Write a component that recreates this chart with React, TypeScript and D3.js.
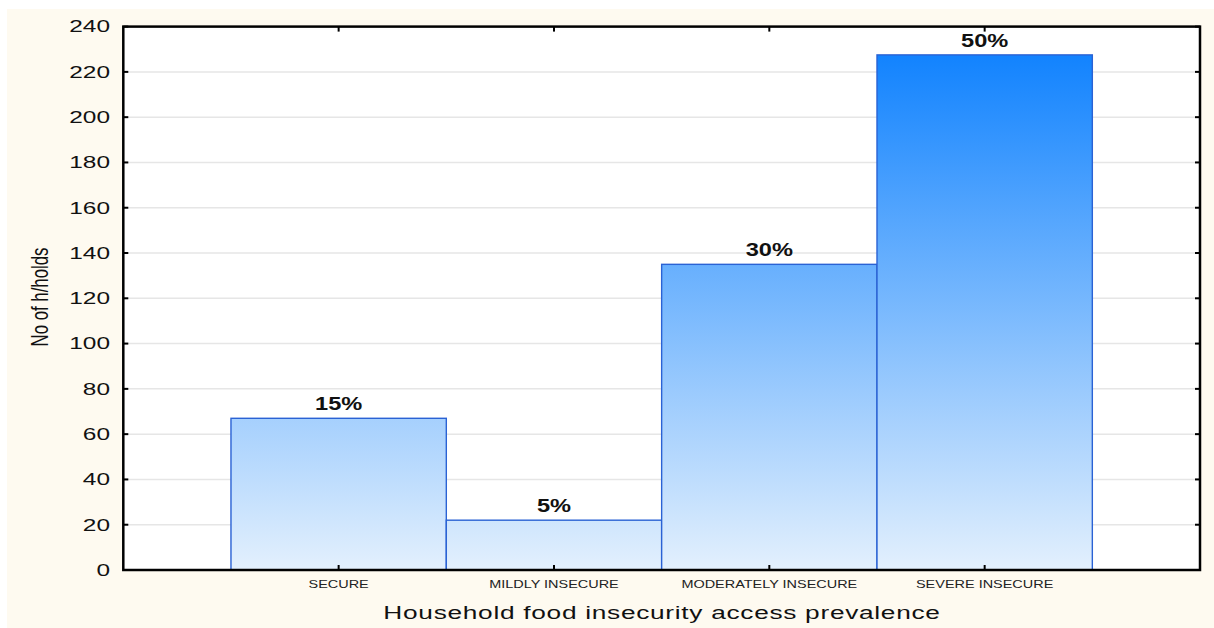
import React from "react";
import * as d3 from "d3";

const categories = ["SECURE", "MILDLY INSECURE", "MODERATELY INSECURE", "SEVERE INSECURE"];
const counts = [67, 22, 135, 227.5];
const percentLabels = ["15%", "5%", "30%", "50%"];
const yTicks = [0, 20, 40, 60, 80, 100, 120, 140, 160, 180, 200, 220, 240];
const yTitle = "No of h/holds";
const xTitle = "Household food insecurity access prevalence";

const W = 1214;
const H = 628;
const plot = { left: 123.3, right: 1200, top: 26.6, bottom: 570 };

export default function App() {
  const x = d3.scaleLinear().domain([0, categories.length + 1]).range([plot.left, plot.right]);
  const y = d3.scaleLinear().domain([0, 240]).range([plot.bottom, plot.top]);
  const maxV = d3.max(counts) as number;
  const font = "'Liberation Sans', Arial, sans-serif";
  const tickLen = 5;

  return (
    <svg width={W} height={H} style={{ position: "absolute", left: 0, top: 0 }} fontFamily={font}>
      <defs>
        <linearGradient id="barGrad" gradientUnits="userSpaceOnUse" x1={0} x2={0} y1={y(maxV)} y2={y(0)}>
          <stop offset="0%" stopColor="#1283FE" />
          <stop offset="100%" stopColor="#E3F0FD" />
        </linearGradient>
      </defs>
      <rect x={0} y={0} width={W} height={H} fill="#ffffff" />
      <rect x={7} y={9} width={W - 7} height={H - 9} fill="#FEFAF0" />
      <rect x={plot.left} y={plot.top} width={plot.right - plot.left} height={plot.bottom - plot.top} fill="#ffffff" />

      {/* gridlines */}
      {yTicks.slice(1, -1).map((t) => (
        <line key={"g" + t} x1={plot.left} x2={plot.right} y1={y(t)} y2={y(t)} stroke="#E6E6E6" strokeWidth={1.5} />
      ))}

      {/* bars */}
      {counts.map((v, i) => (
        <rect
          key={"b" + i}
          x={x(i + 0.5)}
          y={y(v)}
          width={x(i + 1.5) - x(i + 0.5)}
          height={y(0) - y(v)}
          fill="url(#barGrad)"
          stroke="#2A62D4"
          strokeWidth={1.4}
        />
      ))}

      {/* percent labels */}
      {counts.map((v, i) => (
        <g key={"p" + i} transform={`translate(${x(i + 1)},${y(v) - 8}) scale(1.35,1)`}>
          <text x={0} y={0} textAnchor="middle" fontSize={17.5} fontWeight="bold" fill="#111">
            {percentLabels[i]}
          </text>
        </g>
      ))}

      {/* ticks */}
      {yTicks.map((t) => (
        <g key={"t" + t}>
          <line x1={plot.left} x2={plot.left + tickLen} y1={y(t)} y2={y(t)} stroke="#000" strokeWidth={2} />
          <line x1={plot.right} x2={plot.right - tickLen} y1={y(t)} y2={y(t)} stroke="#000" strokeWidth={2} />
          <g transform={`translate(110,${y(t)}) scale(1.5,1)`}>
            <text x={0} y={0} dy="0.36em" textAnchor="end" fontSize={16.3} fill="#111">
              {t}
            </text>
          </g>
        </g>
      ))}
      {categories.map((c, i) => (
        <g key={"c" + i}>
          <line x1={x(i + 1)} x2={x(i + 1)} y1={plot.bottom} y2={plot.bottom - tickLen} stroke="#000" strokeWidth={2} />
          <line x1={x(i + 1)} x2={x(i + 1)} y1={plot.top} y2={plot.top + tickLen} stroke="#000" strokeWidth={2} />
          <g transform={`translate(${x(i + 1)},588) scale(1.28,1)`}>
            <text x={0} y={0} textAnchor="middle" fontSize={11.3} fill="#222">
              {c}
            </text>
          </g>
        </g>
      ))}

      {/* frame */}
      <rect
        x={plot.left}
        y={plot.top}
        width={plot.right - plot.left}
        height={plot.bottom - plot.top}
        fill="none"
        stroke="#000"
        strokeWidth={2.5}
      />

      {/* titles */}
      <g transform={`translate(${(plot.left + plot.right) / 2},618.5) scale(1.42,1)`}>
        <text x={0} y={0} textAnchor="middle" fontSize={18.5} textLength={392} lengthAdjust="spacing" fill="#111">
          {xTitle}
        </text>
      </g>
      <g transform={`translate(39,297) scale(1.45,1) rotate(-90)`}>
        <text
          x={0}
          y={0}
          dy="0.36em"
          textAnchor="middle"
          fontSize={17}
          textLength={99}
          lengthAdjust="spacingAndGlyphs"
          fill="#111"
        >
          {yTitle}
        </text>
      </g>
    </svg>
  );
}
